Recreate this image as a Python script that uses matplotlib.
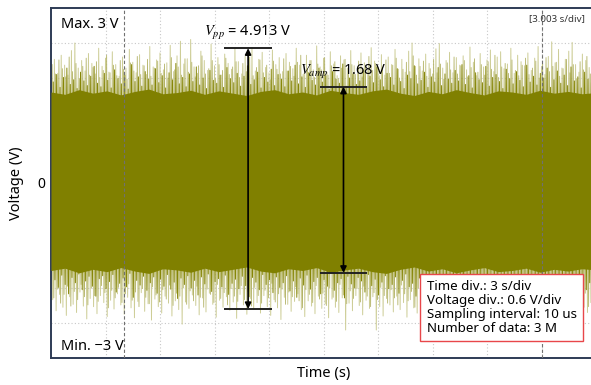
import numpy as np
import matplotlib
matplotlib.use('Agg')
import matplotlib.pyplot as plt

plt.rcParams['font.family'] = ['Noto Sans', 'DejaVu Sans']
plt.rcParams['mathtext.fontset'] = 'stix'

# tallest (light) peaks of the trace in V, left to right
tips_hi = [1.96, 2.12, 1.88, 2.19, 2.02, 1.85, 2.27, 2.40, 1.97, 2.10,
           1.92, 2.22, 2.05, 1.87, 2.31, 2.00, 2.14, 1.90, 2.25, 2.03,
           1.83, 2.16, 1.97, 2.29, 2.07, 1.89, 2.20, 2.02, 1.86, 2.34,
           1.99, 2.11, 2.23, 1.94, 2.06, 2.36, 1.91, 2.18, 2.43, 2.04,
           2.13, 2.46, 1.99, 1.88, 2.26, 2.10, 1.93, 2.38, 2.01, 2.15,
           1.85, 2.21, 2.05, 1.95, 2.30, 2.08, 1.87, 2.17, 2.00, 2.32,
           1.92, 2.12, 2.24, 1.98, 1.89, 2.28, 2.03, 2.15, 1.91, 2.22,
           2.07, 1.96, 2.31, 2.02, 1.86, 2.19, 2.10, 1.94, 2.35, 1.99,
           2.14, 1.90, 2.25, 2.04, 1.84, 2.18, 2.11, 1.97, 2.27, 2.01,
           1.88, 2.23, 2.06, 1.93, 2.32, 2.09, 1.98, 2.20, 1.85, 2.16,
           2.03, 2.29, 1.95, 2.12, 1.90, 2.26, 2.40, 2.00, 2.13, 1.92,
           2.21, 2.05, 1.87, 2.30, 2.39, 1.97, 2.10, 2.24, 1.89, 2.15,
           2.02, 2.18, 1.94, 2.33, 2.07, 1.84, 2.22, 1.99, 2.11, 2.28,
           1.91, 2.16, 2.25, 1.96, 2.04, 2.31, 1.88, 2.19, 2.08, 2.01,
           2.23, 1.93, 2.14, 2.34, 2.00, 1.86, 2.17, 2.42, 2.06, 2.29,
           1.97, 2.12, 2.26, 2.41, 2.03, 1.90, 2.21, 2.10, 1.98, 2.15]
tips_lo = [-2.00, -2.19, -1.91, -2.13, -2.27, -1.95, -2.08, -2.22, -1.87, -2.11,
           -2.33, -1.98, -2.12, -2.24, -1.93, -2.05, -2.29, -2.01, -2.16, -1.90,
           -2.09, -2.25, -1.96, -2.14, -2.31, -2.03, -1.88, -2.20, -2.07, -2.35,
           -1.99, -2.12, -2.23, -1.94, -2.06, -2.28, -2.02, -2.17, -2.42, -2.04,
           -2.15, -1.92, -2.10, -2.26, -1.97, -2.21, -1.89, -2.08, -2.30, -2.01,
           -2.13, -1.95, -2.18, -2.04, -2.32, -1.91, -2.09, -2.25, -1.98, -2.16,
           -2.05, -2.23, -1.93, -2.12, -2.27, -2.00, -2.14, -2.34, -1.96, -2.08,
           -2.20, -2.03, -1.90, -2.17, -2.29, -2.02, -2.11, -2.24, -1.94, -2.15,
           -2.07, -2.31, -1.99, -2.13, -2.22, -1.97, -2.52, -2.06, -2.19, -1.93,
           -2.10, -2.26, -2.01, -2.15, -1.95, -2.52, -2.12, -2.28, -1.98, -2.09,
           -2.21, -1.94, -2.17, -2.05, -2.30, -2.00, -2.14, -2.23, -1.92, -2.11,
           -2.25, -2.03, -2.18, -1.96, -2.10, -2.29, -1.99, -2.16, -2.07, -2.33,
           -1.93, -2.12, -2.24, -2.01, -2.15, -1.97, -2.27, -2.08, -2.20, -1.91,
           -2.14, -2.26, -2.02, -2.18, -1.95, -2.11, -2.32, -2.04, -2.17, -1.98,
           -2.09, -2.23, -1.94, -2.28, -2.06, -2.15, -2.00, -2.21, -2.12, -2.25,
           -1.97, -2.19, -2.08, -2.03, -2.30, -1.96, -2.13, -2.22, -2.05, -2.16]

# medium peaks
mid_hi = [2.03, 1.87, 2.11, 1.96, 1.82, 2.16, 1.91, 2.05, 1.79, 2.00,
          2.14, 1.85, 1.98, 2.08, 1.81, 1.93, 2.19, 1.89, 2.02, 1.84,
          2.10, 1.95, 1.78, 2.06, 1.92, 2.17, 1.86, 2.01, 2.12, 1.83,
          1.97, 2.09, 1.88, 2.04, 1.80, 2.15, 1.94, 1.99, 1.85, 2.13,
          1.90, 2.07, 1.82, 2.01, 2.18, 1.87, 1.96, 2.10, 1.79, 2.03,
          1.93, 2.14, 1.86, 1.99, 2.08, 1.81, 2.05, 1.91, 2.16, 1.84,
          1.98, 2.11, 1.89, 2.02, 1.77, 2.09, 1.95, 1.87, 2.13, 1.92,
          2.00, 1.83, 2.07, 2.19, 1.88, 1.96, 2.10, 1.81, 2.04, 1.94,
          2.15, 1.85, 2.01, 2.08, 1.79, 1.97, 2.12, 1.90, 2.03, 1.86,
          2.09, 1.82, 1.99, 2.17, 1.93, 2.05, 1.84, 1.98, 2.11, 1.88,
          2.02, 2.14, 1.80, 1.95, 2.07, 1.91, 2.18, 1.85, 2.00, 2.09,
          1.83, 1.96, 2.12, 1.89, 2.04, 1.78, 2.06, 1.94, 2.16, 1.87,
          2.01, 2.10, 1.82, 1.98, 2.13, 1.90, 2.03, 1.85, 2.08, 1.95,
          2.19, 1.81, 1.99, 2.05, 1.88, 2.11, 1.93, 1.84, 2.02, 2.14,
          1.86, 1.97, 2.09, 1.80, 2.04, 2.15, 1.91, 2.00, 2.07, 1.83,
          1.96, 2.12, 1.89, 2.03, 1.79, 2.08, 1.94, 2.17, 1.87, 2.01]
mid_lo = [-1.97, -1.82, -2.06, -1.91, -1.77, -2.11, -1.86, -2.00, -1.74, -1.95,
          -2.09, -1.80, -1.93, -2.03, -1.76, -1.88, -2.14, -1.84, -1.97, -1.79,
          -2.05, -1.90, -1.73, -2.01, -1.87, -2.12, -1.81, -1.96, -2.07, -1.78,
          -1.92, -2.04, -1.83, -1.99, -1.75, -2.10, -1.89, -1.94, -1.80, -2.08,
          -1.85, -2.02, -1.77, -1.96, -2.13, -1.82, -1.91, -2.05, -1.74, -1.98,
          -1.88, -2.09, -1.81, -1.94, -2.03, -1.76, -2.00, -1.86, -2.11, -1.79,
          -1.93, -2.06, -1.84, -1.97, -1.72, -2.04, -1.90, -1.82, -2.08, -1.87,
          -1.95, -1.78, -2.02, -2.14, -1.83, -1.91, -2.05, -1.76, -1.99, -1.89,
          -2.10, -1.80, -1.96, -2.03, -1.74, -1.92, -2.07, -1.85, -1.98, -1.81,
          -2.04, -1.77, -1.94, -2.12, -1.88, -2.00, -1.79, -1.93, -2.06, -1.83,
          -1.97, -2.09, -1.75, -1.90, -2.02, -1.86, -2.13, -1.80, -1.95, -2.04,
          -1.78, -1.91, -2.07, -1.84, -1.99, -1.73, -2.01, -1.89, -2.11, -1.82,
          -1.96, -2.05, -1.77, -1.93, -2.08, -1.85, -1.98, -1.80, -2.03, -1.90,
          -2.14, -1.76, -1.94, -2.00, -1.83, -2.06, -1.88, -1.79, -1.97, -2.09,
          -1.81, -1.92, -2.04, -1.75, -1.99, -2.10, -1.86, -1.95, -2.02, -1.78,
          -1.91, -2.07, -1.84, -1.98, -1.74, -2.03, -1.89, -2.12, -1.82, -1.96]

# dark peaks at the edge of the dense part
dark_hi = [1.73, 1.86, 1.64, 1.81, 1.97, 1.69, 1.77, 1.62, 1.90, 1.75,
           1.67, 1.83, 2.00, 1.71, 1.65, 1.88, 1.76, 1.63, 1.94, 1.79,
           1.70, 1.85, 1.61, 2.03, 1.74, 1.82, 1.66, 1.91, 1.78, 1.68,
           1.96, 1.72, 1.84, 1.63, 1.89, 1.77, 2.05, 1.70, 1.81, 1.65,
           1.87, 1.74, 1.99, 1.68, 1.80, 1.62, 1.93, 1.76, 1.71, 1.85,
           1.64, 1.98, 1.79, 1.72, 1.88, 1.66, 1.83, 2.01, 1.69, 1.77,
           1.90, 1.63, 1.81, 1.73, 1.95, 1.67, 1.86, 1.78, 1.65, 1.92,
           1.75, 2.02, 1.70, 1.82, 1.64, 1.89, 1.76, 1.68, 1.97, 1.73,
           1.84, 1.61, 1.91, 1.78, 1.71, 2.04, 1.66, 1.80, 1.87, 1.69,
           1.75, 1.94, 1.63, 1.83, 1.72, 1.99, 1.77, 1.65, 1.88, 1.81,
           1.68, 1.96, 1.74, 1.62, 1.85, 1.79, 2.01, 1.70, 1.76, 1.90,
           1.64, 1.82, 1.73, 1.98, 1.67, 1.87, 1.78, 1.71, 1.93, 1.75,
           2.03, 1.69, 1.84, 1.63, 1.89, 1.77, 1.72, 2.00, 1.66, 1.81,
           1.86, 1.74, 1.62, 1.95, 1.79, 1.70, 1.91, 1.76, 1.65, 2.02,
           1.73, 1.83, 1.68, 1.88, 1.80, 1.97, 1.64, 1.77, 1.92, 1.71,
           1.85, 1.67, 1.99, 1.75, 1.82, 1.63, 1.90, 1.78, 1.72, 1.94]
dark_lo = [-1.66, -1.79, -1.58, -1.74, -1.90, -1.62, -1.71, -1.56, -1.83, -1.68,
           -1.60, -1.77, -1.94, -1.64, -1.59, -1.81, -1.69, -1.57, -1.87, -1.72,
           -1.63, -1.78, -1.55, -1.96, -1.67, -1.75, -1.60, -1.84, -1.71, -1.61,
           -1.89, -1.65, -1.77, -1.57, -1.82, -1.70, -1.98, -1.63, -1.74, -1.59,
           -1.80, -1.67, -1.92, -1.61, -1.73, -1.56, -1.86, -1.69, -1.64, -1.78,
           -1.58, -1.91, -1.72, -1.65, -1.81, -1.60, -1.76, -1.95, -1.62, -1.70,
           -1.83, -1.57, -1.74, -1.66, -1.88, -1.61, -1.79, -1.71, -1.59, -1.85,
           -1.68, -1.96, -1.63, -1.75, -1.58, -1.82, -1.69, -1.62, -1.90, -1.66,
           -1.77, -1.55, -1.84, -1.71, -1.64, -1.97, -1.60, -1.73, -1.80, -1.62,
           -1.68, -1.87, -1.57, -1.76, -1.65, -1.92, -1.70, -1.59, -1.81, -1.74,
           -1.61, -1.89, -1.67, -1.56, -1.78, -1.72, -1.94, -1.63, -1.69, -1.83,
           -1.58, -1.75, -1.66, -1.91, -1.60, -1.80, -1.71, -1.64, -1.86, -1.68,
           -1.96, -1.62, -1.77, -1.57, -1.82, -1.70, -1.65, -1.93, -1.59, -1.74,
           -1.79, -1.67, -1.56, -1.88, -1.72, -1.63, -1.84, -1.69, -1.58, -1.95,
           -1.66, -1.76, -1.61, -1.81, -1.73, -1.90, -1.57, -1.70, -1.85, -1.64,
           -1.78, -1.60, -1.92, -1.68, -1.75, -1.56, -1.83, -1.71, -1.65, -1.87]

# solid middle of the band
dense_hi = [1.56, 1.52, 1.60, 1.54, 1.58, 1.51, 1.57, 1.61, 1.53, 1.55,
            1.59, 1.52, 1.58, 1.54, 1.50, 1.57, 1.60, 1.53, 1.56, 1.51,
            1.59, 1.55, 1.52, 1.58, 1.61, 1.54, 1.50, 1.57, 1.53, 1.60,
            1.55, 1.51, 1.58, 1.56, 1.52, 1.59, 1.54, 1.57, 1.53, 1.55]
dense_lo = [-1.50, -1.46, -1.54, -1.48, -1.52, -1.45, -1.51, -1.55, -1.47, -1.49,
            -1.53, -1.46, -1.52, -1.48, -1.44, -1.51, -1.54, -1.47, -1.50, -1.45,
            -1.53, -1.49, -1.46, -1.52, -1.55, -1.48, -1.44, -1.51, -1.47, -1.54,
            -1.49, -1.45, -1.52, -1.50, -1.46, -1.53, -1.48, -1.51, -1.47, -1.49]

t_div = 3.0      # s/div
v_div = 0.6      # V/div
cursors = [4.0, 27.0]

vpp_label = r'$V_{pp}$ = 4.913 V'
vpp_span = (2.31, -2.16)
vpp_t = 10.85
vamp_label = r'$V_{amp}$ = 1.68 V'
vamp_span = (1.65, -1.54)
vamp_t = 16.1

info = ['Time div.: 3 s/div', 'Voltage div.: 0.6 V/div',
        'Sampling interval: 10 us', 'Number of data: 3 M']

fig = plt.figure(figsize=(5.91, 3.85), dpi=100, facecolor='white')
ax = fig.add_axes([51/591, 27/385, 545/591, 350/385])

t_end = 10 * t_div
ax.set_xlim(0, t_end)
ax.set_ylim(-5 * v_div, 5 * v_div)

# dotted division grid
for k in range(1, 10):
    ax.axvline(k * t_div, color='#c8c8c8', lw=0.8, ls=(0, (1, 2)), zorder=0)
for k in range(-4, 5):
    ax.axhline(k * v_div, color='#c8c8c8', lw=0.8, ls=(0, (1, 2)), zorder=0)


def zigzag(hi, lo, phase):
    n = len(hi)
    step = t_end / n
    t0 = np.linspace(0, t_end - step, n) + phase * step
    tt = np.empty(2 * n)
    vv = np.empty(2 * n)
    tt[0::2] = t0
    tt[1::2] = t0 + step / 2
    vv[0::2] = hi
    vv[1::2] = lo
    return tt, vv


tt, vv = zigzag(tips_hi, tips_lo, 0.0)
ax.plot(tt, vv, color='#cdcd96', lw=0.7, zorder=2)
tt, vv = zigzag(mid_hi, mid_lo, 0.33)
ax.plot(tt, vv, color='#b3b366', lw=0.6, zorder=2)
tt, vv = zigzag(dark_hi, dark_lo, 0.66)
ax.plot(tt, vv, color='#868606', lw=0.7, zorder=3)

t_dense = np.linspace(0, t_end, len(dense_hi))
ax.fill_between(t_dense, dense_lo, dense_hi, color='#808000', lw=0, zorder=3)

for c in cursors:
    ax.axvline(c, color='#707070', lw=0.8, ls=(0, (3, 2)), zorder=4)


# Vpp / Vamp markers
def span_marker(t, hi, lo, label, w=1.3):
    ax.hlines([hi, lo], t - w, t + w, color='#222222', lw=1.4, zorder=5)
    ax.annotate('', xy=(t, hi), xytext=(t, lo),
                arrowprops=dict(arrowstyle='<|-|>', color='black', lw=1.2,
                                mutation_scale=9, shrinkA=0, shrinkB=0),
                zorder=5)
    ax.text(t, hi + 0.26, label, ha='center', va='center', fontsize=10.5,
            zorder=6)


span_marker(vpp_t, vpp_span[0], vpp_span[1], vpp_label)
span_marker(vamp_t, vamp_span[0], vamp_span[1], vamp_label)

ax.text(0.018, 0.952, 'Max. 3 V', transform=ax.transAxes, fontsize=10.5,
        va='center', zorder=6)
ax.text(0.018, 0.034, 'Min. \u22123 V', transform=ax.transAxes, fontsize=10.5,
        va='center', zorder=6)
ax.text(0.98, 0.971, '[3.003 s/div]', transform=ax.transAxes, fontsize=7,
        ha='right', va='center', color='#333333', zorder=6)

ax.text(0.689, 0.222, '\n'.join(info), transform=ax.transAxes, fontsize=9.6,
        va='top', ha='left', linespacing=1.08, zorder=7,
        bbox=dict(boxstyle='square,pad=0.5', facecolor='white',
                  edgecolor='#e8474a', lw=1.0))

ax.set_xticks([])
ax.set_yticks([0])
ax.tick_params(axis='y', length=0, labelsize=10, pad=4)
ax.set_xlabel('Time (s)', fontsize=10.5, labelpad=6)
ax.set_ylabel('Voltage (V)', fontsize=10.5, labelpad=10)

for s in ['top', 'left', 'bottom']:
    ax.spines[s].set_color('#2e3b55')
    ax.spines[s].set_linewidth(1.4)
ax.spines['right'].set_visible(False)

fig.savefig('out.png', dpi=100)
